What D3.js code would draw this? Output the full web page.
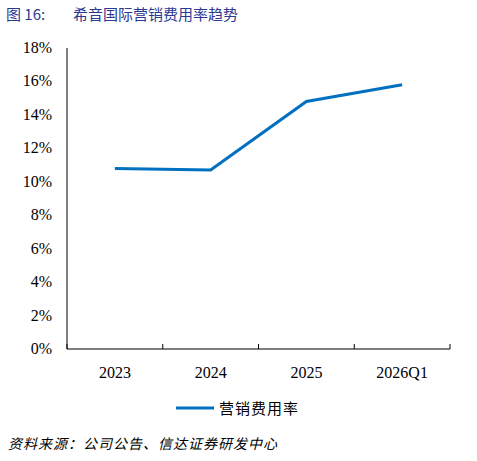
<!DOCTYPE html><html><head><meta charset="utf-8"><script src="https://cdn.jsdelivr.net/npm/d3@7"></script>
<style>body{margin:0;background:#fff}</style></head><body><svg width="477" height="461"></svg>
<script>
const categories=["2023","2024","2025","2026Q1"];
const values=[10.8,10.7,14.8,15.8];
const yTicks=[0,2,4,6,8,10,12,14,16,18];
const svg=d3.select("svg");
const serif="'Liberation Serif','Times New Roman',serif";
const x=d3.scaleBand().domain(categories).range([67,450]);
const y=d3.scaleLinear().domain([0,18]).range([349,48]);
svg.append("text").attr("x",6).attr("y",20).attr("fill","#2b3990").attr("font-size",15).attr("font-family","'Noto Sans CJK SC'").text("图 16:");
svg.append("text").attr("x",73).attr("y",20).attr("fill","#2b3990").attr("font-size",15).attr("font-family","'Noto Sans CJK SC'").text("希音国际营销费用率趋势");
const g=svg.append("g");
yTicks.forEach(t=>g.append("text").attr("x",52).attr("y",y(t)+5).attr("text-anchor","end").attr("font-family",serif).attr("font-size",16).text(t+"%"));
g.append("line").attr("x1",67).attr("x2",67).attr("y1",48).attr("y2",349).attr("stroke","#000");
g.append("line").attr("x1",67).attr("x2",450).attr("y1",349).attr("y2",349).attr("stroke","#000");
[...categories.map(c=>x(c)),450].forEach(p=>g.append("line").attr("x1",p).attr("x2",p).attr("y1",344).attr("y2",349).attr("stroke","#000"));
categories.forEach(c=>g.append("text").attr("x",x(c)+x.bandwidth()/2).attr("y",378).attr("text-anchor","middle").attr("font-family",serif).attr("font-size",16).text(c));
const line=d3.line().x((d,i)=>x(categories[i])+x.bandwidth()/2).y(d=>y(d));
g.append("path").datum(values).attr("d",line).attr("fill","none").attr("stroke","#0070C0").attr("stroke-width",3);
svg.append("line").attr("x1",176).attr("x2",214).attr("y1",408).attr("y2",408).attr("stroke","#0070C0").attr("stroke-width",3);
svg.append("text").attr("x",219).attr("y",414).attr("font-size",15).attr("font-family","'Noto Sans CJK SC'").attr("letter-spacing",1).text("营销费用率");
svg.append("text").attr("x",8).attr("y",449).attr("font-size",14).attr("font-style","italic").attr("font-family","'Noto Sans CJK SC'").attr("letter-spacing",1).text("资料来源：公司公告、信达证券研发中心");
</script></body></html>
